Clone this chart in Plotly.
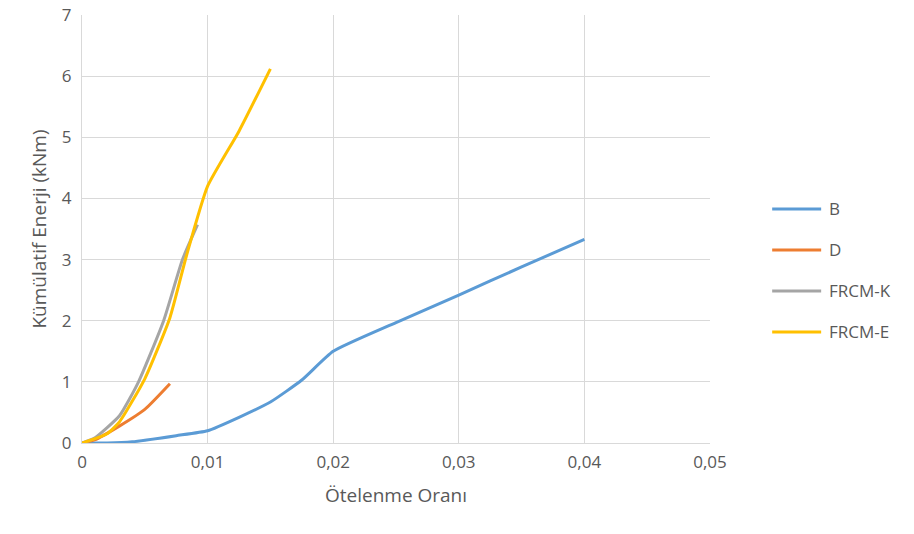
import plotly.graph_objects as go

# Data
b_x = [0, 0.002, 0.004, 0.0075, 0.01, 0.0125, 0.015, 0.0175, 0.02, 0.025, 0.03, 0.035, 0.04]
b_y = [0, 0.0, 0.02, 0.12, 0.2, 0.42, 0.67, 1.03, 1.5, 1.97, 2.42, 2.88, 3.33]

d_x = [0, 0.001, 0.003, 0.005, 0.007]
d_y = [0, 0.05, 0.28, 0.55, 0.97]

k_x = [0, 0.001, 0.003, 0.0045, 0.0065, 0.008, 0.0092]
k_y = [0, 0.08, 0.45, 1.0, 2.0, 3.0, 3.57]

e_x = [0, 0.002, 0.003, 0.005, 0.007, 0.0083, 0.01, 0.0125, 0.015]
e_y = [0, 0.15, 0.35, 1.05, 2.05, 3.05, 4.2, 5.1, 6.12]

names = ["B", "D", "FRCM-K", "FRCM-E"]
colors = ["#5B9BD5", "#ED7D31", "#A5A5A5", "#FFC000"]
series = [(b_x, b_y), (d_x, d_y), (k_x, k_y), (e_x, e_y)]

font_color = "#595959"
fam = "Open Sans, Noto Sans, sans-serif"

fig = go.Figure()
for (xs, ys), n, c in zip(series, names, colors):
    fig.add_trace(go.Scatter(
        x=xs, y=ys, name=n, mode="lines", showlegend=False,
        line=dict(color=c, width=3, shape="spline", smoothing=0.5),
    ))

# legend drawn as line samples + labels to the right of the plot
leg_top, leg_step = 0.547, 0.0958
for i, (n, c) in enumerate(zip(names, colors)):
    yy = leg_top - i * leg_step
    fig.add_shape(type="line", xref="paper", yref="paper",
                  x0=1.099, x1=1.177, y0=yy, y1=yy,
                  line=dict(color=c, width=3))
    fig.add_annotation(xref="paper", yref="paper", x=1.186, y=yy,
                       text=n, showarrow=False, xanchor="left", yanchor="middle",
                       font=dict(size=17, color=font_color, family=fam))

fig.update_layout(
    width=914, height=534,
    margin=dict(l=82, r=204, t=15, b=91),
    plot_bgcolor="white", paper_bgcolor="white",
    separators=",.",
    font=dict(family=fam, color=font_color, size=17),
    showlegend=False,
    xaxis=dict(
        range=[0, 0.05], dtick=0.01, showgrid=True, gridcolor="#D9D9D9", gridwidth=1,
        zeroline=False, showline=True, linecolor="#D9D9D9", ticks="", automargin=False,
        tickfont=dict(size=17, color=font_color), ticklabelstandoff=4,
        title=dict(text="Ötelenme Oranı", font=dict(size=19, color=font_color), standoff=16),
    ),
    yaxis=dict(
        range=[0, 7], dtick=1, showgrid=True, gridcolor="#D9D9D9", gridwidth=1,
        zeroline=False, showline=True, linecolor="#D9D9D9", ticks="", automargin=False,
        tickfont=dict(size=17, color=font_color), ticklabelstandoff=6,
        title=dict(text="Kümülatif Enerji (kNm)", font=dict(size=19, color=font_color), standoff=10),
    ),
)

fig.write_html("out.html", config={"displayModeBar": False},
               post_script="document.body.style.margin='0';")
